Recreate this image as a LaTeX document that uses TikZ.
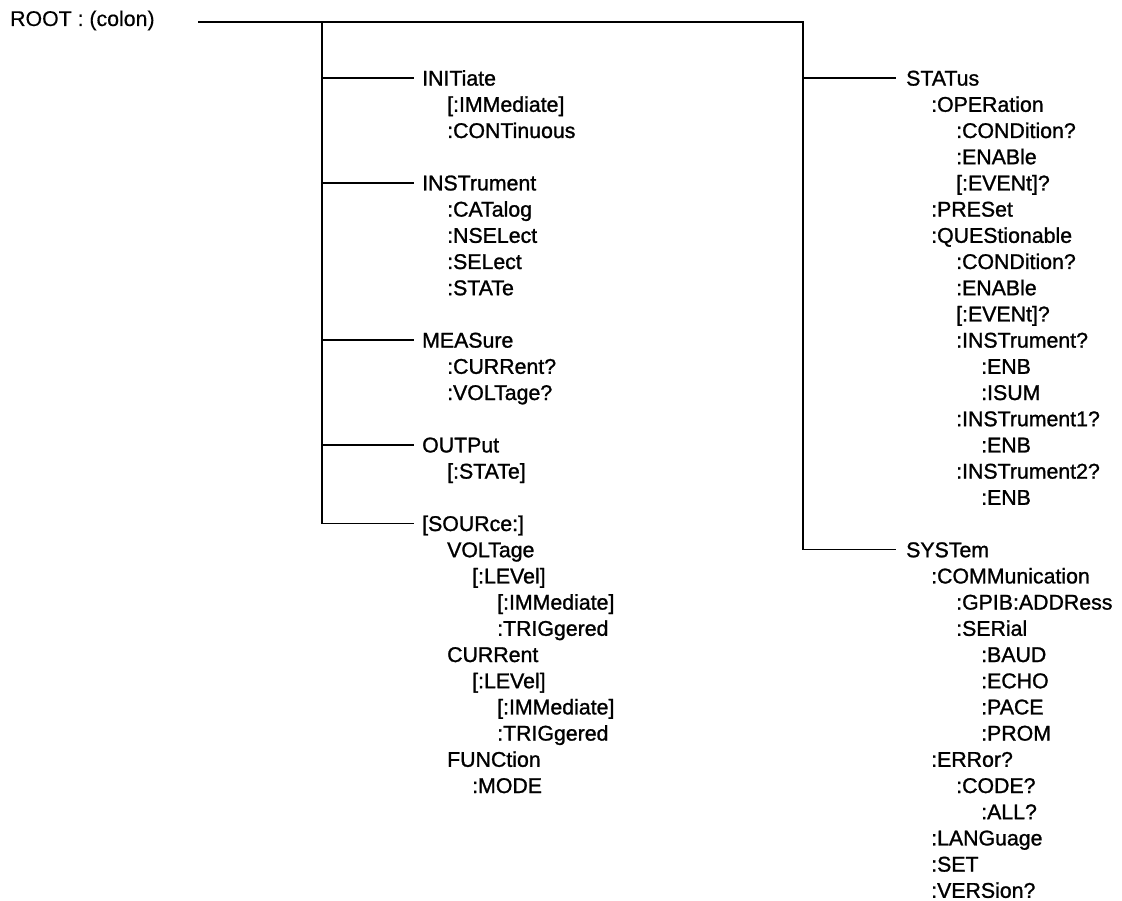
\documentclass[tikz,border=0pt]{standalone}
\usepackage{fontspec}
\setmainfont{Liberation Sans}
\newfontfamily\treefont{Liberation Sans}[FakeBold=1.2]
\newfontfamily\rootfont{Liberation Sans}[FakeBold=0.4]
\newcommand\Ln[4]{\node[txt] (#1) at (#2, 85.6+26.2*#3) {#4};}
\begin{document}
\begin{tikzpicture}[x=1pt,y=-1pt,
  txt/.style={anchor=base west, inner sep=0pt, font=\fontsize{21.3}{25}\treefont},
  conn/.style={line width=1.7pt, line cap=rect, line join=miter}]
\useasboundingbox (0,0) rectangle (1122,901);
\node[txt, font=\fontsize{21.3}{25}\rootfont] (root) at (10,26) {ROOT : (colon)};
\coordinate (topL) at (199,22);
\coordinate (trL) at (322,22);
\coordinate (topR) at (803,22);
% left column
\Ln{l0}{422}{0}{INITiate}
\Ln{l1}{447}{1}{[:IMMediate]}
\Ln{l2}{447}{2}{:CONTinuous}
\Ln{l4}{422}{4}{INSTrument}
\Ln{l5}{447}{5}{:CATalog}
\Ln{l6}{447}{6}{:NSELect}
\Ln{l7}{447}{7}{:SELect}
\Ln{l8}{447}{8}{:STATe}
\Ln{l10}{422}{10}{MEASure}
\Ln{l11}{447}{11}{:CURRent?}
\Ln{l12}{447}{12}{:VOLTage?}
\Ln{l14}{422}{14}{OUTPut}
\Ln{l15}{447}{15}{[:STATe]}
\Ln{l17}{422}{17}{[SOURce:]}
\Ln{l18}{447}{18}{VOLTage}
\Ln{l19}{472}{19}{[:LEVel]}
\Ln{l20}{497}{20}{[:IMMediate]}
\Ln{l21}{497}{21}{:TRIGgered}
\Ln{l22}{447}{22}{CURRent}
\Ln{l23}{472}{23}{[:LEVel]}
\Ln{l24}{497}{24}{[:IMMediate]}
\Ln{l25}{497}{25}{:TRIGgered}
\Ln{l26}{447}{26}{FUNCtion}
\Ln{l27}{472}{27}{:MODE}
% right column
\Ln{r0}{906}{0}{STATus}
\Ln{r1}{931}{1}{:OPERation}
\Ln{r2}{956}{2}{:CONDition?}
\Ln{r3}{956}{3}{:ENABle}
\Ln{r4}{956}{4}{[:EVENt]?}
\Ln{r5}{931}{5}{:PRESet}
\Ln{r6}{931}{6}{:QUEStionable}
\Ln{r7}{956}{7}{:CONDition?}
\Ln{r8}{956}{8}{:ENABle}
\Ln{r9}{956}{9}{[:EVENt]?}
\Ln{r10}{956}{10}{:INSTrument?}
\Ln{r11}{981}{11}{:ENB}
\Ln{r12}{981}{12}{:ISUM}
\Ln{r13}{956}{13}{:INSTrument1?}
\Ln{r14}{981}{14}{:ENB}
\Ln{r15}{956}{15}{:INSTrument2?}
\Ln{r16}{981}{16}{:ENB}
\Ln{r18}{906}{18}{SYSTem}
\Ln{r19}{931}{19}{:COMMunication}
\Ln{r20}{956}{20}{:GPIB:ADDRess}
\Ln{r21}{956}{21}{:SERial}
\Ln{r22}{981}{22}{:BAUD}
\Ln{r23}{981}{23}{:ECHO}
\Ln{r24}{981}{24}{:PACE}
\Ln{r25}{981}{25}{:PROM}
\Ln{r26}{931}{26}{:ERRor?}
\Ln{r27}{956}{27}{:CODE?}
\Ln{r28}{981}{28}{:ALL?}
\Ln{r29}{931}{29}{:LANGuage}
\Ln{r30}{931}{30}{:SET}
\Ln{r31}{931}{31}{:VERSion?}
% connectors
\draw[conn] (topL) -- (topR);
\foreach \h in {l0,l4,l10,l14,l17}
  \draw[conn] ([shift={(-9,-7.6)}]\h.base west) -| (trL);
\foreach \h in {r0,r18}
  \draw[conn] ([shift={(-11,-7.6)}]\h.base west) -| (topR);
\end{tikzpicture}
\end{document}
